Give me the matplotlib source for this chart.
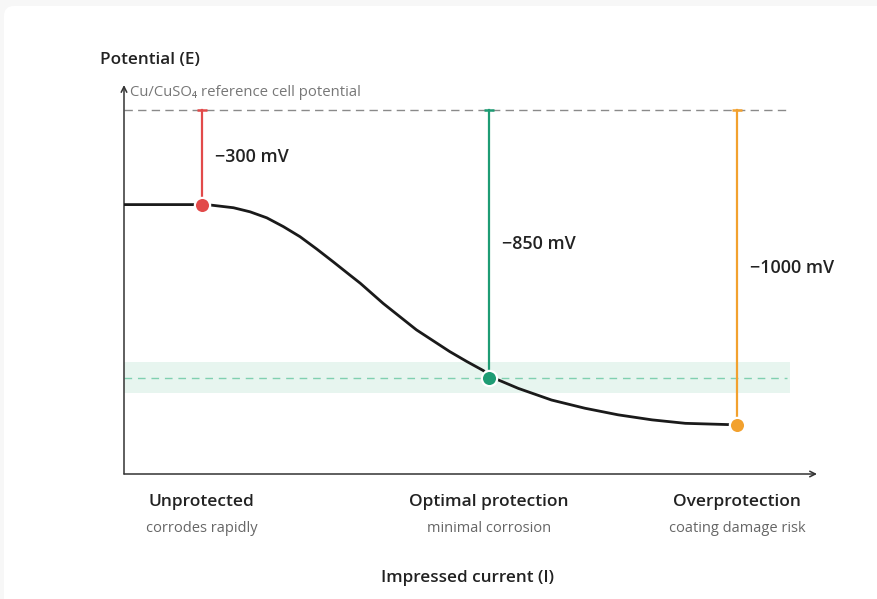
import matplotlib
matplotlib.use("Agg")
import matplotlib.pyplot as plt
from matplotlib.patches import FancyBboxPatch

plt.rcParams['font.family'] = ['Open Sans', 'DejaVu Sans']
plt.rcParams['lines.scale_dashes'] = False

# curve: impressed current (arbitrary units 0-100) vs potential (mV vs Cu/CuSO4)
current = [0, 11.2, 12.7, 15.8, 18.2, 20.6, 23.0, 25.4, 27.8, 30.2, 32.6, 34.1,
           37.4, 42.2, 47.0, 49.5, 51.9, 52.7, 54.0, 56.9, 61.7, 66.5, 71.3,
           76.2, 81.0, 87.2, 88.5]
potential = [-300, -300, -302, -310, -323, -342, -370, -402, -441, -482, -524, -550,
             -614, -698, -767, -799, -828, -850, -857, -884, -921, -947, -968,
             -984, -995, -999, -1000]

# marked states
state_x = [11.2, 52.7, 88.5]
state_mv = [-300, -850, -1000]
state_labels = ['\u2212300 mV', '\u2212850 mV', '\u22121000 mV']
state_titles = ['Unprotected', 'Optimal protection', 'Overprotection']
state_notes = ['corrodes rapidly', 'minimal corrosion', 'coating damage risk']
state_colors = ['#E24A4A', '#1E9C74', '#F2A12E']

reference_mv = 0
band_mv = (-900, -800)
target_mv = -850
line_end = 95.5

fig = plt.figure(figsize=(8.78, 5.99), dpi=100)
fig.patch.set_facecolor('#f7f7f7')
card = FancyBboxPatch((0.04, -0.3), 9.2, 5.99 - 0.06 + 0.3,
                      boxstyle='round,pad=0,rounding_size=0.1',
                      transform=fig.dpi_scale_trans, facecolor='white',
                      edgecolor='none', zorder=-10)
fig.patches.append(card)

W, H = 878, 599
ax = fig.add_axes([124 / W, (H - 474) / H, 693 / W, (474 - 85) / H])
ax.set_facecolor('none')
ax.set_xlim(0, 100)
ax.set_ylim(-1156, 80)
for s in ax.spines.values():
    s.set_visible(False)
ax.set_xticks([])
ax.set_yticks([])

# axes with arrow heads
ax.annotate('', xy=(1, 0), xytext=(0, 0), xycoords='axes fraction',
            arrowprops=dict(arrowstyle='->', lw=1.1, color='#333333',
                            shrinkA=0, shrinkB=0, mutation_scale=10))
ax.annotate('', xy=(0, 1), xytext=(0, 0), xycoords='axes fraction',
            arrowprops=dict(arrowstyle='->', lw=1.1, color='#333333',
                            shrinkA=0, shrinkB=0, mutation_scale=10))

# optimal band and reference lines
ax.fill_between([0, 96.1], band_mv[0], band_mv[1], color='#e7f5ef', lw=0, zorder=1)
ax.plot([0, 95.6], [target_mv, target_mv], color='#80d0b0', lw=1.0,
        dashes=(5.5, 4.2), zorder=2)
ax.plot([0, line_end], [reference_mv, reference_mv], color='#8a8a8a', lw=1.0,
        dashes=(6, 3.8), zorder=2)
ax.text(0.9, 57, 'Cu/CuSO\u2084 reference cell potential', fontsize=10.7,
        color='#777777', va='center', ha='left')

# curve
ax.plot(current, potential, color='#1a1a1a', lw=2.0, solid_capstyle='round',
        solid_joinstyle='round', zorder=4)

for x, mv, lab, c in zip(state_x, state_mv, state_labels, state_colors):
    ax.plot([x, x], [reference_mv, mv], color=c, lw=1.6, zorder=3)
    ax.plot([x], [reference_mv], marker='_', markersize=6.5, mew=1.8, color=c, zorder=3)
    ax.plot([x], [mv], marker='o', markersize=11, color=c, mec='white', mew=1.6, zorder=5)
    ax.annotate(lab, xy=(x, (reference_mv + mv) / 2), xytext=(13, 0),
                textcoords='offset pixels', fontsize=12.9, fontweight='semibold',
                color='#222222', va='center', ha='left')

for x, t, n in zip(state_x, state_titles, state_notes):
    ax.annotate(t, xy=(x, 0), xycoords=('data', 'figure pixels'), xytext=(0, H - 502),
                textcoords=('offset pixels', 'figure pixels'), fontsize=12.5,
                fontweight='semibold', color='#222222', ha='center', va='center')
    ax.annotate(n, xy=(x, 0), xycoords=('data', 'figure pixels'), xytext=(0, H - 528),
                textcoords=('offset pixels', 'figure pixels'), fontsize=10.5,
                color='#666666', ha='center', va='center')

fig.text(100 / W, (H - 60) / H, 'Potential (E)', fontsize=12.3, fontweight='semibold',
         color='#222222', ha='left', va='center')
fig.text(468 / W, (H - 578) / H, 'Impressed current (I)', fontsize=12.3,
         fontweight='semibold', color='#222222', ha='center', va='center')

fig.savefig('out.png', dpi=100, facecolor=fig.get_facecolor())
